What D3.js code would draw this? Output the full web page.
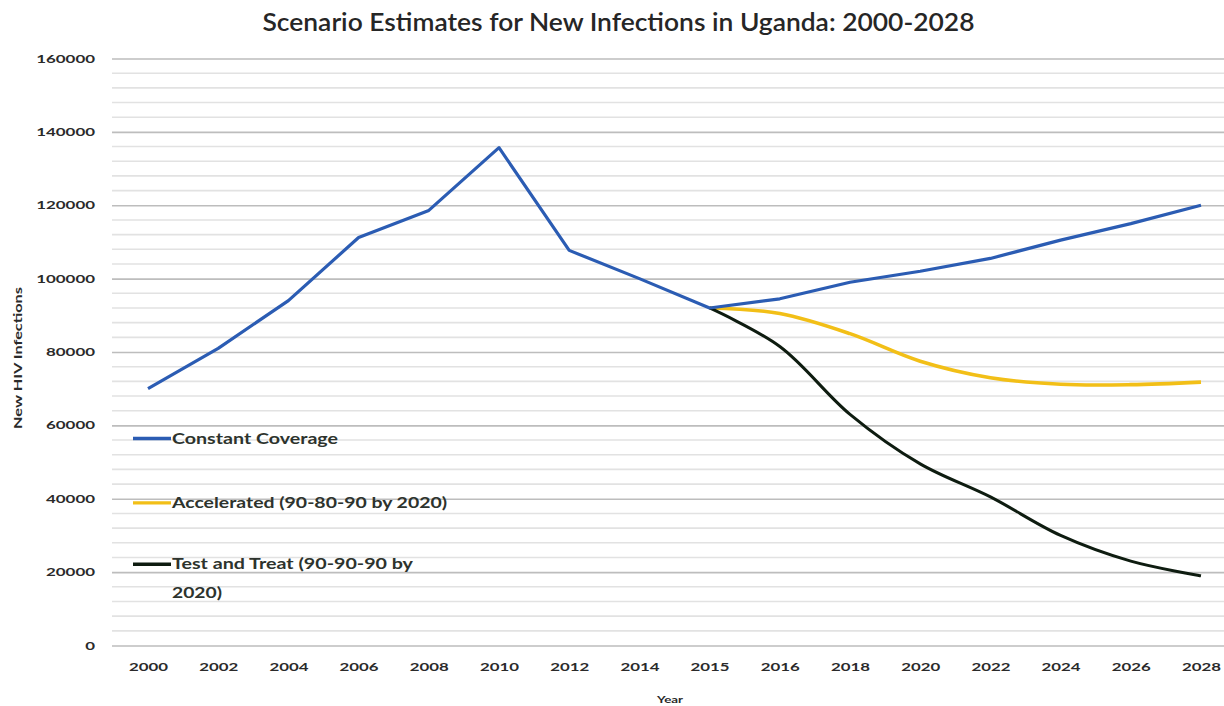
<!DOCTYPE html>
<html>
<head>
<meta charset="utf-8">
<script src="https://cdn.jsdelivr.net/npm/d3@7"></script>
<style>
  html, body { margin: 0; padding: 0; background: #ffffff; }
  svg { display: block; font-family: Lato, "Open Sans", sans-serif; }
</style>
</head>
<body>
<svg id="chart" width="1224" height="706"></svg>
<script>
// Years on the category axis (2015 sits between 2014 and 2016)
const years = ["2000", "2002", "2004", "2006", "2008", "2010", "2012", "2014",
               "2015", "2016", "2018", "2020", "2022", "2024", "2026", "2028"];

// New HIV infections per scenario
const constantCoverage = [70000, 81000, 94000, 111200, 118600, 135700, 107700, 100000,
                          92000, 94500, 99000, 102000, 105500, 110500, 115000, 120000];
const accelerated      = [null, null, null, null, null, null, null, null,
                          92000, 90500, 85000, 77500, 73000, 71200, 71100, 71800];
const testAndTreat     = [null, null, null, null, null, null, null, null,
                          92000, 81500, 63000, 49500, 40500, 30000, 23000, 19000];

const majorTicks = [0, 20000, 40000, 60000, 80000, 100000, 120000, 140000, 160000];
const minorTicks = d3.range(4000, 160000, 4000).filter(v => v % 20000 !== 0);

const seriesNames = ["Constant Coverage", "Accelerated (90-80-90 by 2020)", "Test and Treat (90-90-90 by|2020)"];
const seriesColors = ["#2b5cb3", "#f2bf17", "#0e1c10"];

const svg = d3.select("#chart");
const plot = { left: 112, right: 1224, top: 58.5, bottom: 645.5 };

const x = d3.scalePoint().domain(years).range([148, 1201]);
const y = d3.scaleLinear().domain([0, 160000]).range([plot.bottom, plot.top]);

// Title
svg.append("text")
  .attr("x", 618.5).attr("y", 31)
  .attr("text-anchor", "middle")
  .attr("font-size", 24).attr("font-weight", 600)
  .attr("fill", "#262626")
  .attr("textLength", 712).attr("lengthAdjust", "spacingAndGlyphs")
  .text("Scenario Estimates for New Infections in Uganda: 2000-2028");

// Minor gridlines
svg.append("g")
  .selectAll("line").data(minorTicks).join("line")
  .attr("x1", plot.left).attr("x2", plot.right)
  .attr("y1", d => y(d)).attr("y2", d => y(d))
  .attr("stroke", "#e2e2e2").attr("stroke-width", 1.6);

// Major gridlines and value labels via the y axis
const yAxis = svg.append("g")
  .attr("transform", `translate(${plot.left},0)`)
  .call(d3.axisLeft(y).tickValues(majorTicks).tickFormat(d3.format("d"))
          .tickSize(-(plot.right - plot.left)).tickPadding(17));
yAxis.select(".domain").remove();
yAxis.selectAll(".tick line").attr("stroke", "#bdbdbd").attr("stroke-width", 1.6);
yAxis.selectAll(".tick text")
  .attr("font-family", "Lato, sans-serif")
  .attr("font-size", 11).attr("font-weight", 700).attr("fill", "#2a2a2a")
  .each(function (d) {
    const n = String(d).length;
    d3.select(this).attr("textLength", n * 9.8).attr("lengthAdjust", "spacingAndGlyphs");
  });

// Category axis labels
const xAxis = svg.append("g")
  .attr("transform", `translate(0,${plot.bottom})`)
  .call(d3.axisBottom(x).tickSize(0).tickPadding(18));
xAxis.select(".domain").remove();
xAxis.selectAll(".tick text")
  .attr("font-family", "Lato, sans-serif")
  .attr("font-size", 11).attr("font-weight", 700).attr("fill", "#2a2a2a")
  .attr("textLength", 39).attr("lengthAdjust", "spacingAndGlyphs");

// Axis titles
svg.append("text")
  .attr("x", 670).attr("y", 703)
  .attr("text-anchor", "middle")
  .attr("font-size", 10).attr("font-weight", 700).attr("fill", "#2a2a2a")
  .attr("textLength", 26).attr("lengthAdjust", "spacingAndGlyphs")
  .text("Year");

svg.append("text")
  .attr("transform", "translate(22,358) rotate(-90)")
  .attr("text-anchor", "middle")
  .attr("font-size", 11).attr("font-weight", 700).attr("fill", "#2a2a2a")
  .attr("textLength", 142).attr("lengthAdjust", "spacingAndGlyphs")
  .text("New HIV Infections");

// Series lines
const linear = d3.line()
  .defined(d => d[1] != null)
  .x(d => x(d[0])).y(d => y(d[1]));
const smooth = d3.line()
  .defined(d => d[1] != null)
  .x(d => x(d[0])).y(d => y(d[1]))
  .curve(d3.curveCatmullRom.alpha(0.5));

const pairs = vals => years.map((yr, i) => [yr, vals[i]]);

svg.append("path")
  .attr("d", smooth(pairs(accelerated).filter(d => d[1] != null)))
  .attr("fill", "none").attr("stroke", seriesColors[1]).attr("stroke-width", 3.6)
  .attr("stroke-linejoin", "round");

svg.append("path")
  .attr("d", smooth(pairs(testAndTreat).filter(d => d[1] != null)))
  .attr("fill", "none").attr("stroke", seriesColors[2]).attr("stroke-width", 3)
  .attr("stroke-linejoin", "round");

svg.append("path")
  .attr("d", linear(pairs(constantCoverage)))
  .attr("fill", "none").attr("stroke", seriesColors[0]).attr("stroke-width", 3.2)
  .attr("stroke-linejoin", "round");

// Legend
const legendY = [y(56000) - 1.5, y(39000) + 0.5, y(22000) - 0.5];
const legendWidths = [[166], [275], [241, 50]];
const legend = svg.append("g");
seriesNames.forEach((name, i) => {
  legend.append("line")
    .attr("x1", 133).attr("x2", 171)
    .attr("y1", legendY[i]).attr("y2", legendY[i])
    .attr("stroke", seriesColors[i]).attr("stroke-width", 3.4);
  name.split("|").forEach((part, j) => {
    legend.append("text")
      .attr("x", 172).attr("y", legendY[i] + 5 + j * 29)
      .attr("font-size", 15).attr("font-weight", 700).attr("fill", "#2d332d")
      .attr("textLength", legendWidths[i][j]).attr("lengthAdjust", "spacingAndGlyphs")
      .text(part);
  });
});
</script>
</body>
</html>
